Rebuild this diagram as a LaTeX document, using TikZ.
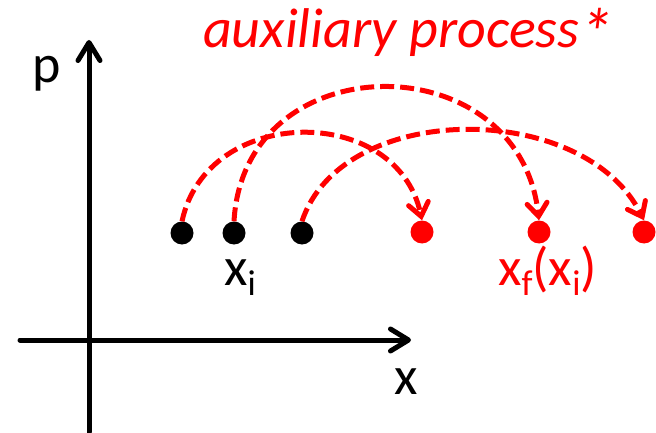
\documentclass[tikz,border=0pt]{standalone}
\usepackage{fontspec}
\setmainfont{Carlito}
\usetikzlibrary{arrows.meta}
\newcommand{\lsub}[1]{\raisebox{-10pt}{\fontsize{36}{36}\selectfont #1}}
\begin{document}
\begin{tikzpicture}[x=1pt,y=-1pt,
  axis/.style={line width=5pt, line cap=round, -{Straight Barb[length=18pt,width=22pt,line cap=round,line join=round]}},
  dot/.style={circle, fill, inner sep=0pt, minimum size=23pt},
  jump/.style={red, line width=5pt, dash pattern=on 14pt off 6pt, -{Straight Barb[length=13pt,width=20pt,line cap=round]}},
  lbl/.style={font=\fontsize{54}{60}\selectfont, inner sep=0pt}]
\useasboundingbox (0,0) rectangle (656,433);
% axes
\coordinate (ybot) at (89,432);
\coordinate (ytop) at (89,40);
\coordinate (xl) at (20,340);
\coordinate (xr) at (411,340);
\draw[axis] (ybot) -- (ytop);
\draw[axis] (xl) -- (xr);
% dots
\node[dot] (b1) at (182,233) {};
\node[dot] (b2) at (234,233) {};
\node[dot] (b3) at (302,233) {};
\node[dot, red] (r1) at (422,232) {};
\node[dot, red] (r2) at (539,232) {};
\node[dot, red] (r3) at (644,232) {};
% jumps
\draw[jump] (b1.north) .. controls +(25,-117) and +(-25,-117) .. (r1.north);
\draw[jump] (b2.north) .. controls +(10,-178) and +(-20,-178) .. (r2.north);
\draw[jump] (b3.north) .. controls +(40,-121) and +(-60,-121) .. (r3.north);
% labels
\node[lbl, anchor=base] (plbl) at (47,83) {p};
\node[lbl, anchor=base] (xlbl) at (406,394) {x};
\node[lbl, anchor=base west] (xi) at (224,285) {x\lsub{i}};
\node[lbl, anchor=base west, red] (xf) at (498,285) {x\lsub{f}(x\lsub{i})};
\node[font=\fontsize{56}{60}\selectfont\itshape, red, anchor=base west, inner sep=0pt] (title) at (203,48) {auxiliary process\raisebox{-9pt}{\fontsize{68}{60}\selectfont *}};
\end{tikzpicture}
\end{document}
